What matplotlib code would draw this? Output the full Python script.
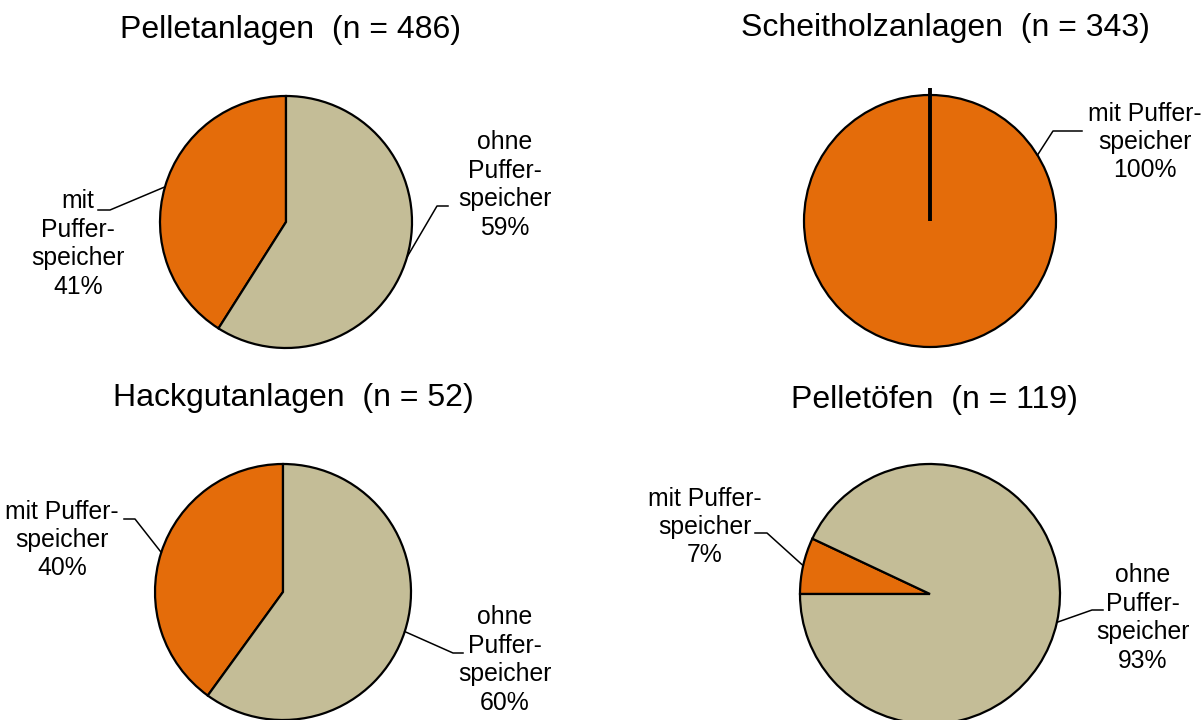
import numpy as np
import matplotlib.pyplot as plt

plt.rcParams['font.family'] = ['Liberation Sans', 'DejaVu Sans']

# data
titles = ['Pelletanlagen  (n = 486)', 'Scheitholzanlagen  (n = 343)',
          'Hackgutanlagen  (n = 52)', 'Pelletöfen  (n = 119)']
mit = [41, 100, 40, 7]     # mit Pufferspeicher, %
ohne = [59, 0, 60, 93]     # ohne Pufferspeicher, %
mit_text = ['mit\nPuffer-\nspeicher', 'mit Puffer-\nspeicher',
            'mit Puffer-\nspeicher', 'mit Puffer-\nspeicher']
ohne_text = 'ohne\nPuffer-\nspeicher'

orange = '#E46C0A'
beige = '#C4BD97'
W, H = 1204, 720

# layout (pixels, y from top)
centers = [(286, 222), (930, 221), (283, 592), (930, 594)]
radii = [126, 126, 128, 130]
starts = [90, 90, 90, 180]
ccw = [True, True, True, False]
title_pos = [(291, 30), (945, 28), (293, 398), (934, 400)]
# label centre, elbow point, end of horizontal stub, anchor angle override
mit_lab = [((78, 244), (110, 210), (98, 210), None),
           ((1145, 142), (1053, 131), (1082, 131), 31.5),
           ((62, 540), (135, 519), (124, 519), None),
           ((705, 527), (767, 533), (755, 533), None)]
ohne_lab = [((505, 185), (437, 206), (448, 206), None),
            None,
            ((505, 660), (453, 653), (463, 653), None),
            ((1143, 618), (1092, 610), (1103, 610), None)]

fig = plt.figure(figsize=(W / 100, H / 100), dpi=100)
ax = fig.add_axes([0, 0, 1, 1])


def leader(cx, cy, r, ang, elbow, end):
    a = np.deg2rad(ang)
    xs = [cx + r * np.cos(a), elbow[0], end[0]]
    ys = [cy + r * np.sin(a), H - elbow[1], H - end[1]]
    ax.plot(xs, ys, color='black', lw=1.1)


for i in range(4):
    cx, cy = centers[i][0], H - centers[i][1]
    r = radii[i]
    wedges, _ = ax.pie([mit[i], ohne[i]], colors=[orange, beige],
                       startangle=starts[i], counterclock=ccw[i],
                       center=(cx, cy), radius=r, frame=True,
                       wedgeprops=dict(edgecolor='black', linewidth=1.6))
    # an empty slice shows as a thick spoke poking out of the rim
    for w, v in zip(wedges, [mit[i], ohne[i]]):
        if v == 0:
            w.set_radius(r + 7)
            w.set_linewidth(2.8)
    ax.text(title_pos[i][0], H - title_pos[i][1], titles[i],
            ha='center', va='center', fontsize=23)

    labs = [(mit_lab[i], mit_text[i] + '\n%d%%' % mit[i], wedges[0]),
            (ohne_lab[i], ohne_text + '\n%d%%' % ohne[i], wedges[1])]
    for lab, txt, w in labs:
        if lab is None:
            continue
        pos, elbow, end, ang = lab
        if ang is None:
            ang = (w.theta1 + w.theta2) / 2
        leader(cx, cy, r, ang, elbow, end)
        ax.text(pos[0], H - pos[1], txt, ha='center', va='center',
                fontsize=17.8, linespacing=1.23)

ax.set_xlim(0, W)
ax.set_ylim(0, H)
ax.set_aspect('auto')
ax.axis('off')
fig.savefig('out.png', dpi=100)
